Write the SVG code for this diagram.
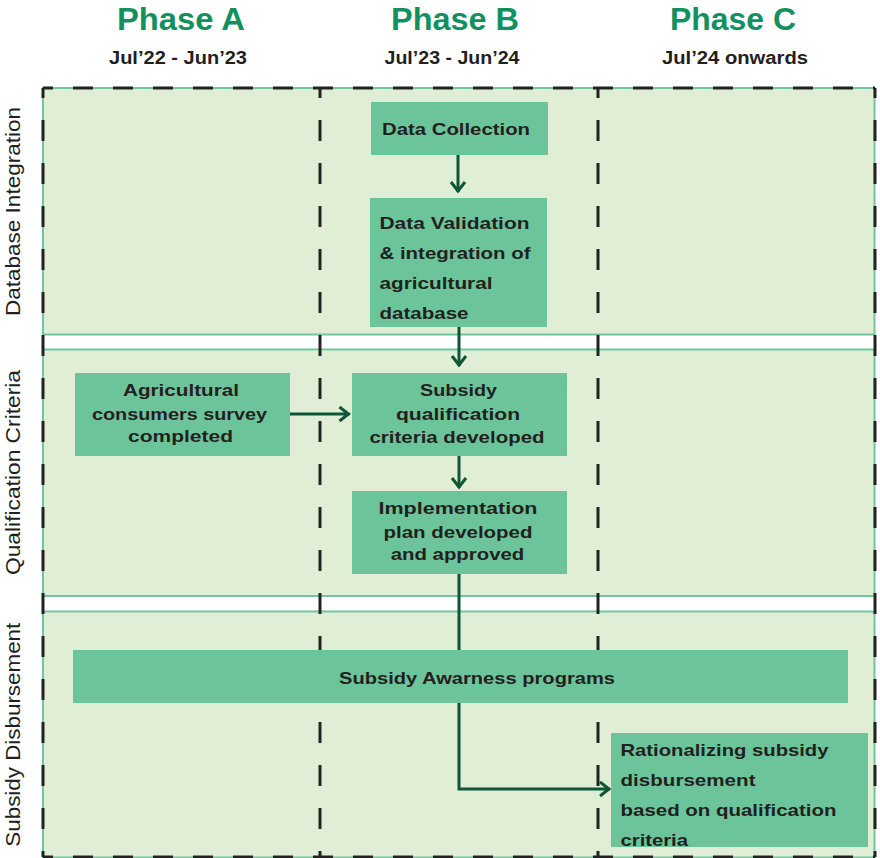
<svg xmlns="http://www.w3.org/2000/svg" width="880" height="858" viewBox="0 0 880 858">
<style>
.hdr{font-family:"Liberation Sans",Arial,sans-serif;font-weight:bold;font-size:32px;fill:#12915f;text-anchor:middle}
.sub{font-family:"Liberation Sans",Arial,sans-serif;font-weight:bold;font-size:18px;fill:#231f20;text-anchor:middle}
.lane{fill:#e1eed6;stroke:#72c69d;stroke-width:2}
.lbl{font-family:"Liberation Sans",Arial,sans-serif;font-size:19.5px;fill:#231f20;text-anchor:middle}
.box{fill:#6cc59a}
.t{font-family:"Liberation Sans",Arial,sans-serif;font-weight:bold;font-size:17px;fill:#231f20}
.c{text-anchor:middle}
.dv{stroke:#222;stroke-width:3;stroke-dasharray:21 22;stroke-dashoffset:11;fill:none}
.dh{stroke:#222;stroke-width:3;stroke-dasharray:20 20;stroke-dashoffset:10;fill:none}
.conn{stroke:#0f5537;stroke-width:3;fill:none;marker-end:url(#arr)}
</style>
<defs>
<marker id="arr" markerUnits="userSpaceOnUse" markerWidth="16" markerHeight="18" viewBox="0 0 16 18" refX="13" refY="9" orient="auto">
<path d="M3,2 L12,9 L3,16" fill="none" stroke="#0f5537" stroke-width="3"/>
</marker>
</defs>
<rect width="880" height="858" fill="#ffffff"/>
<g id="headers">
<text class="hdr" x="181" y="30" textLength="128" lengthAdjust="spacingAndGlyphs">Phase A</text>
<text class="hdr" x="455" y="30" textLength="128" lengthAdjust="spacingAndGlyphs">Phase B</text>
<text class="hdr" x="733" y="30" textLength="126" lengthAdjust="spacingAndGlyphs">Phase C</text>
<text class="sub" x="178" y="64" textLength="138" lengthAdjust="spacingAndGlyphs">Jul’22 - Jun’23</text>
<text class="sub" x="452" y="64" textLength="135" lengthAdjust="spacingAndGlyphs">Jul’23 - Jun’24</text>
<text class="sub" x="735" y="64" textLength="146" lengthAdjust="spacingAndGlyphs">Jul’24 onwards</text>
</g>
<g id="lanes">
<rect class="lane" x="43" y="88" width="831.5" height="246.5"/>
<rect class="lane" x="43" y="349.5" width="831.5" height="246.5"/>
<rect class="lane" x="43" y="611.5" width="831.5" height="246"/>
<text class="lbl" transform="translate(20,211.5) rotate(-90)" textLength="209" lengthAdjust="spacingAndGlyphs">Database Integration</text>
<text class="lbl" transform="translate(20,472.5) rotate(-90)" textLength="205" lengthAdjust="spacingAndGlyphs">Qualification Criteria</text>
<text class="lbl" transform="translate(20,734.7) rotate(-90)" textLength="224" lengthAdjust="spacingAndGlyphs">Subsidy Disbursement</text>
</g>
<g id="grid">
<line class="dh" x1="43" y1="88" x2="875" y2="88"/>
<line class="dh" x1="43" y1="857" x2="875" y2="857"/>
<line class="dv" x1="43" y1="88" x2="43" y2="857"/>
<line class="dv" x1="320" y1="88" x2="320" y2="857"/>
<line class="dv" x1="598" y1="88" x2="598" y2="857"/>
<line class="dv" x1="875" y1="88" x2="875" y2="857"/>
</g>
<g id="connectors">
<line class="conn" x1="458" y1="155" x2="458" y2="192"/>
<line class="conn" x1="459" y1="327" x2="459" y2="366"/>
<line class="conn" x1="290" y1="414" x2="349.5" y2="414"/>
<line class="conn" x1="459" y1="456" x2="459" y2="488"/>
<path class="conn" d="M459,574 V789 H610"/>
</g>
<g id="data-collection">
<rect class="box" x="371" y="102" width="177" height="53"/>
<text class="t" x="382" y="135" textLength="148" lengthAdjust="spacingAndGlyphs">Data Collection</text>
</g>
<g id="data-validation">
<rect class="box" x="370" y="198" width="177" height="129"/>
<text class="t" x="379.5" y="228.5" textLength="150" lengthAdjust="spacingAndGlyphs">Data Validation</text>
<text class="t" x="379.5" y="258.5" textLength="151" lengthAdjust="spacingAndGlyphs">&amp; integration of</text>
<text class="t" x="379.5" y="288.5" textLength="113" lengthAdjust="spacingAndGlyphs">agricultural</text>
<text class="t" x="379.5" y="318.5" textLength="89" lengthAdjust="spacingAndGlyphs">database</text>
</g>
<g id="consumer-survey">
<rect class="box" x="75" y="373" width="215" height="83"/>
<text class="t c" x="181" y="396" textLength="116" lengthAdjust="spacingAndGlyphs">Agricultural</text>
<text class="t c" x="179.5" y="420" textLength="175" lengthAdjust="spacingAndGlyphs">consumers survey</text>
<text class="t c" x="180.5" y="442" textLength="105" lengthAdjust="spacingAndGlyphs">completed</text>
</g>
<g id="qualification-criteria">
<rect class="box" x="352" y="373" width="215" height="83"/>
<text class="t c" x="458.5" y="396" textLength="77" lengthAdjust="spacingAndGlyphs">Subsidy</text>
<text class="t c" x="458" y="420" textLength="124" lengthAdjust="spacingAndGlyphs">qualification</text>
<text class="t c" x="457" y="442.5" textLength="175" lengthAdjust="spacingAndGlyphs">criteria developed</text>
</g>
<g id="implementation-plan">
<rect class="box" x="352" y="491" width="215" height="83"/>
<text class="t c" x="458" y="514" textLength="159" lengthAdjust="spacingAndGlyphs">Implementation</text>
<text class="t c" x="458" y="537.5" textLength="149" lengthAdjust="spacingAndGlyphs">plan developed</text>
<text class="t c" x="457.5" y="559.5" textLength="133.5" lengthAdjust="spacingAndGlyphs">and approved</text>
</g>
<g id="awareness-programs">
<rect class="box" x="73" y="650" width="775" height="53"/>
<text class="t c" x="477" y="684" textLength="276" lengthAdjust="spacingAndGlyphs">Subsidy Awarness programs</text>
</g>
<g id="rationalizing">
<rect class="box" x="611" y="733" width="257" height="114"/>
<text class="t" x="620.5" y="756" textLength="208" lengthAdjust="spacingAndGlyphs">Rationalizing subsidy</text>
<text class="t" x="620.5" y="785.5" textLength="135" lengthAdjust="spacingAndGlyphs">disbursement</text>
<text class="t" x="620.5" y="815.5" textLength="216" lengthAdjust="spacingAndGlyphs">based on qualification</text>
<text class="t" x="620.5" y="845.5" textLength="67.5" lengthAdjust="spacingAndGlyphs">criteria</text>
</g>
</svg>
